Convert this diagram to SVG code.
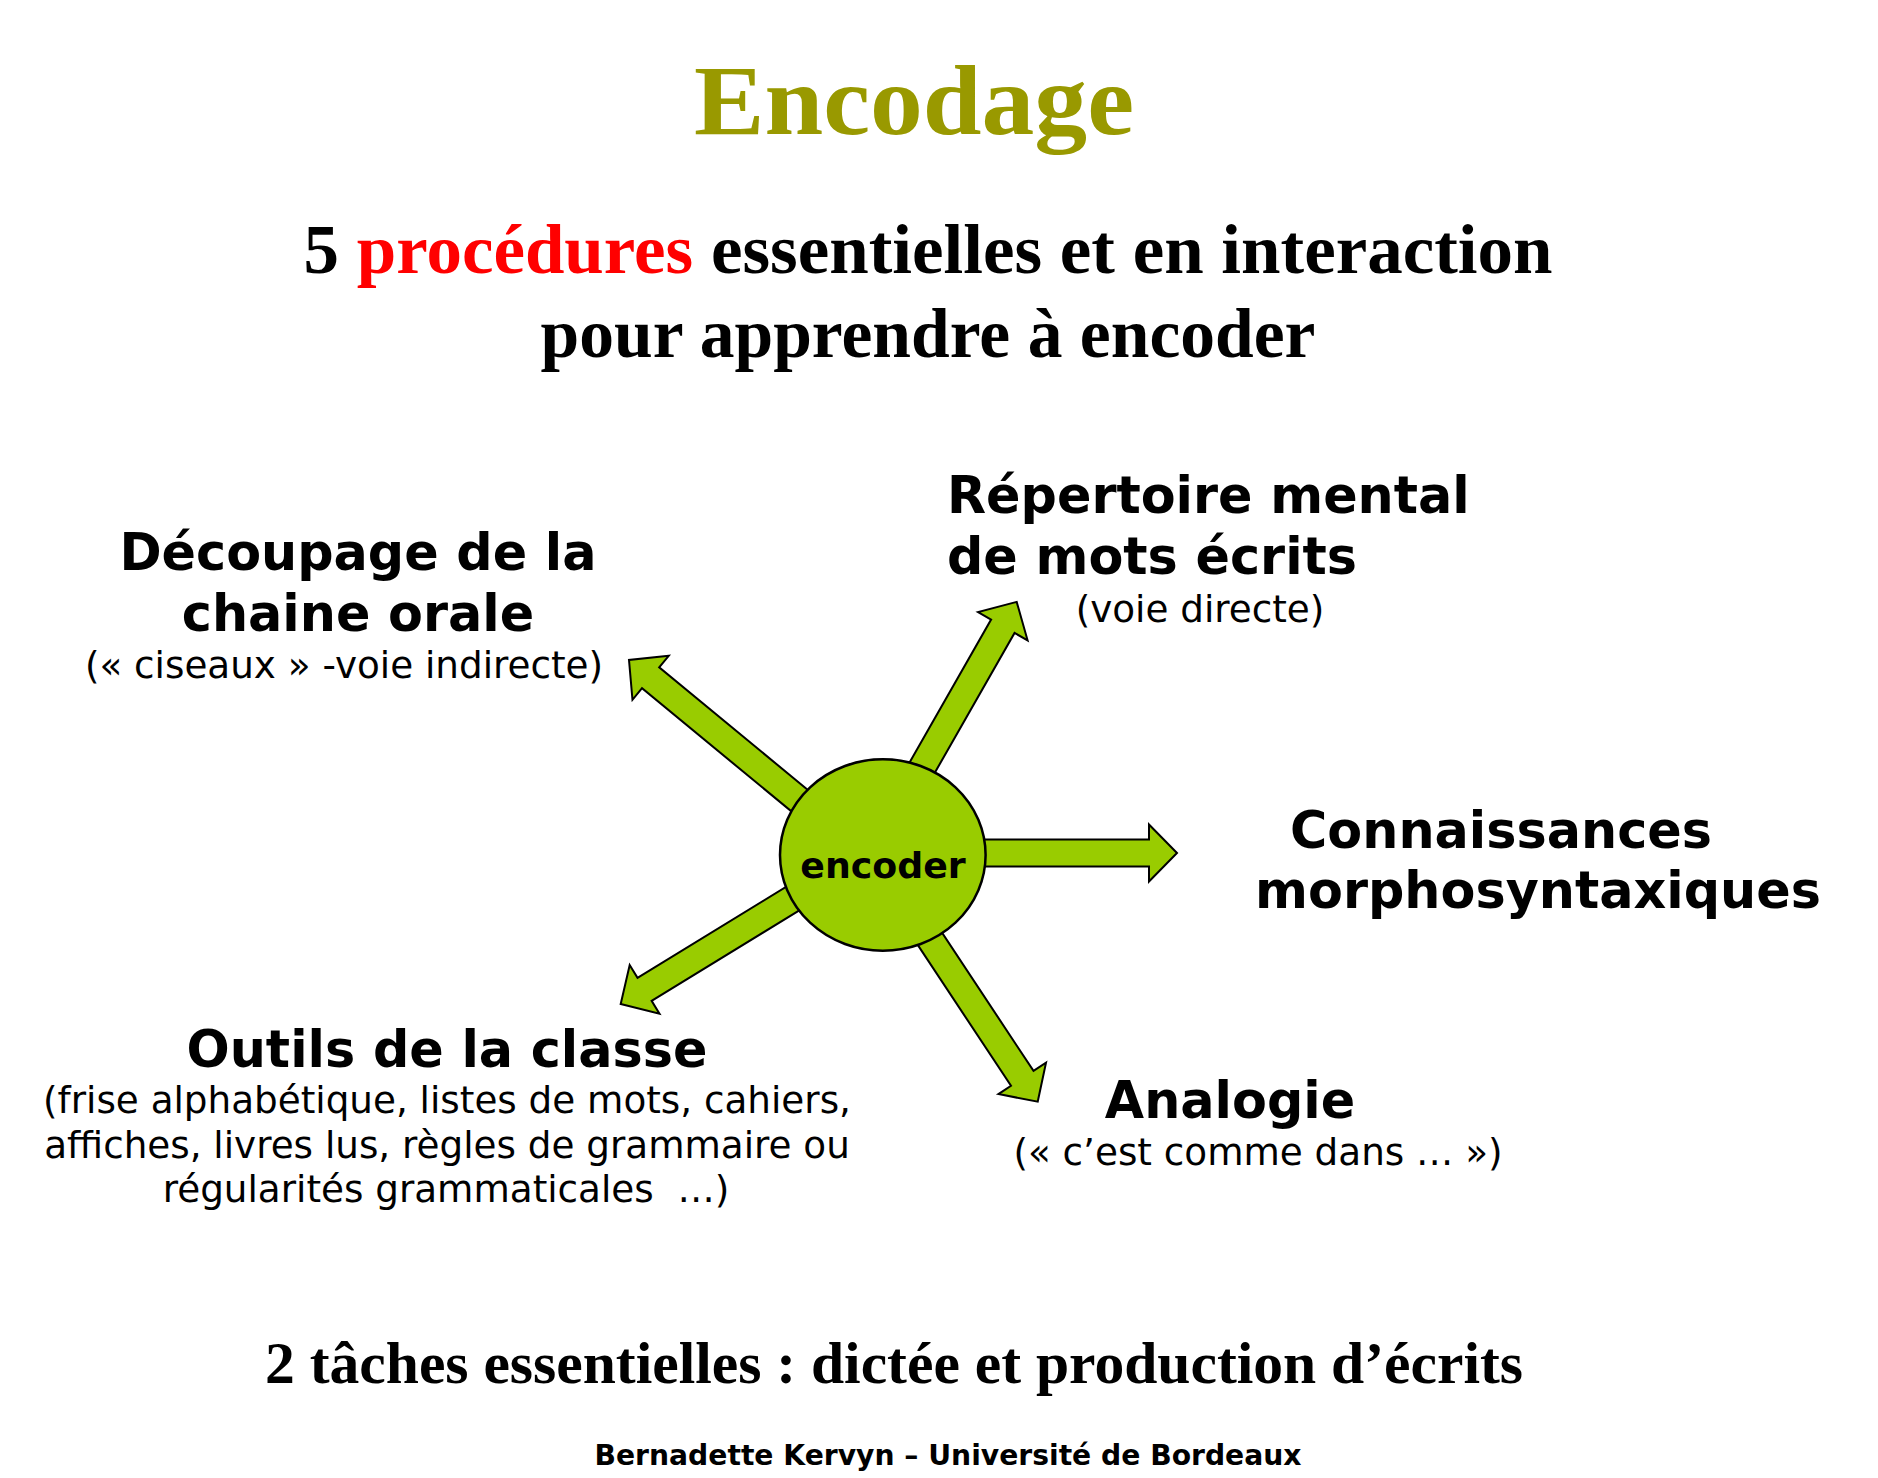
<svg xmlns="http://www.w3.org/2000/svg" width="1878" height="1478" viewBox="0 0 1878 1478">
  <style>
    .serif { font-family: "Liberation Serif", "Times New Roman", serif; font-weight: bold; fill: #000; }
    .lbl { font-family: "DejaVu Sans", Verdana, "Liberation Sans", sans-serif; font-weight: bold; font-size: 50.8px; fill: #000; }
    .sub { font-family: "DejaVu Sans", Verdana, "Liberation Sans", sans-serif; font-weight: normal; font-size: 37.3px; fill: #000; }
    .mid { text-anchor: middle; }
    .arrow { fill: #99CC00; stroke: #000; stroke-width: 2; stroke-linejoin: miter; }
    .hub { fill: #99CC00; stroke: #000; stroke-width: 2.5; }
  </style>
  <defs>
    <polygon id="arr310" points="0,0 -28,-28.5 -28,-13.5 -310,-13.5 -310,13.5 -28,13.5 -28,28.5"/>
    <polygon id="arr290" points="0,0 -28,-28.5 -28,-13.5 -290,-13.5 -290,13.5 -28,13.5 -28,28.5"/>
    <polygon id="arr280" points="0,0 -28,-28.5 -28,-13.5 -280,-13.5 -280,13.5 -28,13.5 -28,28.5"/>
  </defs>
  <rect width="1878" height="1478" fill="#fff"/>

  <g id="title">
    <text class="serif mid" x="914" y="134" font-size="100" style="fill:#999900" textLength="440" lengthAdjust="spacingAndGlyphs">Encodage</text>
  </g>

  <g id="subtitle">
    <text class="serif mid" x="928" y="273" font-size="69" textLength="1249" lengthAdjust="spacingAndGlyphs">5 <tspan style="fill:#FF0000">procédures</tspan> essentielles et en interaction</text>
    <text class="serif mid" x="928" y="357" font-size="69" textLength="775" lengthAdjust="spacingAndGlyphs">pour apprendre à encoder</text>
  </g>

  <g id="connectors">
    <use href="#arr310" class="arrow" transform="translate(629,660) rotate(219.5)"/>
    <use href="#arr280" class="arrow" transform="translate(1016.7,601.9) rotate(-60.3)"/>
    <use href="#arr290" class="arrow" transform="translate(1177,853) rotate(0)"/>
    <use href="#arr290" class="arrow" transform="translate(620.7,1004) rotate(148.5)"/>
    <use href="#arr280" class="arrow" transform="translate(1037.7,1101.7) rotate(56.5)"/>
  </g>

  <g id="node-encoder">
    <ellipse class="hub" cx="882.8" cy="855" rx="102.8" ry="95.7"/>
    <text class="lbl mid" x="883" y="878" style="font-size:36.3px">encoder</text>
  </g>

  <g id="node-decoupage">
    <text class="lbl mid" x="358" y="570">Découpage de la</text>
    <text class="lbl mid" x="358" y="631">chaine orale</text>
    <text class="sub mid" x="344" y="678">(« ciseaux » -voie indirecte)</text>
  </g>

  <g id="node-repertoire">
    <text class="lbl" x="947" y="513">Répertoire mental</text>
    <text class="lbl" x="947" y="574">de mots écrits</text>
    <text class="sub mid" x="1200" y="622">(voie directe)</text>
  </g>

  <g id="node-connaissances">
    <text class="lbl mid" x="1501" y="848">Connaissances</text>
    <text class="lbl mid" x="1538" y="908">morphosyntaxiques</text>
  </g>

  <g id="node-outils">
    <text class="lbl mid" x="447" y="1067">Outils de la classe</text>
    <text class="sub mid" x="447" y="1113">(frise alphabétique, listes de mots, cahiers,</text>
    <text class="sub mid" x="447" y="1158">affiches, livres lus, règles de grammaire ou</text>
    <text class="sub mid" x="446" y="1202">régularités grammaticales &#160;…)</text>
  </g>

  <g id="node-analogie">
    <text class="lbl mid" x="1230" y="1118">Analogie</text>
    <text class="sub mid" x="1258" y="1165">(« c’est comme dans … »)</text>
  </g>

  <g id="footer">
    <text class="serif mid" x="894" y="1383" font-size="60" textLength="1258" lengthAdjust="spacingAndGlyphs">2 tâches essentielles : dictée et production d’écrits</text>
    <text class="lbl mid" x="948" y="1465" style="font-size:28.2px">Bernadette Kervyn – Université de Bordeaux</text>
  </g>
</svg>
